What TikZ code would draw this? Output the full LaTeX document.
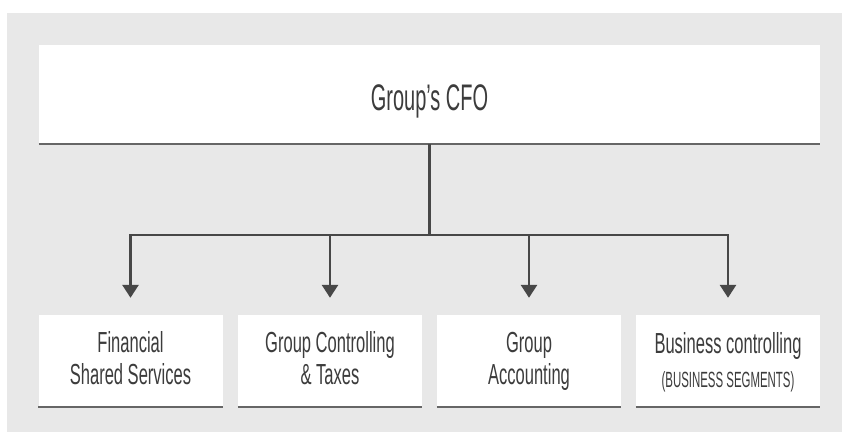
\documentclass[tikz,border=0pt]{standalone}
\usepackage{fontspec}
\usetikzlibrary{arrows.meta}
% condensed faces for the three text sizes
\newfontfamily\headfont[FakeStretch=0.54]{Liberation Sans}
\newfontfamily\unitfont[FakeStretch=0.57]{Liberation Sans}
\newfontfamily\notefont[FakeStretch=0.52]{Liberation Sans}
\definecolor{panel}{HTML}{E8E8E8}
\definecolor{ink}{HTML}{3C3C3C}
\definecolor{rule}{HTML}{666666}
\definecolor{wire}{HTML}{474747}
\begin{document}
\begin{tikzpicture}[x=1pt,y=-1pt,
  box/.style={fill=white,inner sep=0pt,text=ink,align=center},
  topbox/.style={box,minimum width=781pt,minimum height=99pt,text height=31pt,text depth=0pt,font=\headfont\fontsize{37}{40}\selectfont},
  unitbox/.style={box,minimum width=184pt,minimum height=92pt,text height=46pt,text depth=0pt,font=\unitfont\fontsize{29}{32}\selectfont},
  baseline rule/.style={draw=rule,line width=2pt},
  link/.style={draw=wire,line width=2.8pt},
  feed/.style={link,-{Triangle[width=16pt,length=13pt]}}]
\useasboundingbox (0,0) rectangle (842,432);
% light panel behind the chart
\fill[panel] (7,13) rectangle (842,432);

% head of the chart
\node[topbox] (cfo) at (429.5,94.5) {Group’s CFO};
\draw[baseline rule] (cfo.south west) -- (cfo.south east);

% reporting units
\node[unitbox] (fss) at (130.5,361) {Financial\\Shared Services};
\node[unitbox] (gct) at (330,361) {Group Controlling\\\& Taxes};
\node[unitbox] (gac) at (529,361) {Group\\Accounting};
\node[unitbox,text height=52pt] (bco) at (728,361) {Business controlling\\[2pt]{\notefont\fontsize{22}{24}\selectfont(BUSINESS SEGMENTS)}};
\foreach \n in {fss,gct,gac,bco}
  \draw[baseline rule] (\n.south west) -- (\n.south east);

% distribution bus
\coordinate (bus) at (429.5,235);
\draw[link] (cfo.south) -- (bus);
\draw[feed] (bus) -| ([yshift=17pt]fss.north);
\draw[feed] (bus) -| ([yshift=17pt]bco.north);
\draw[feed] (gct.north |- bus) -- ([yshift=17pt]gct.north);
\draw[feed] (gac.north |- bus) -- ([yshift=17pt]gac.north);
\end{tikzpicture}
\end{document}
